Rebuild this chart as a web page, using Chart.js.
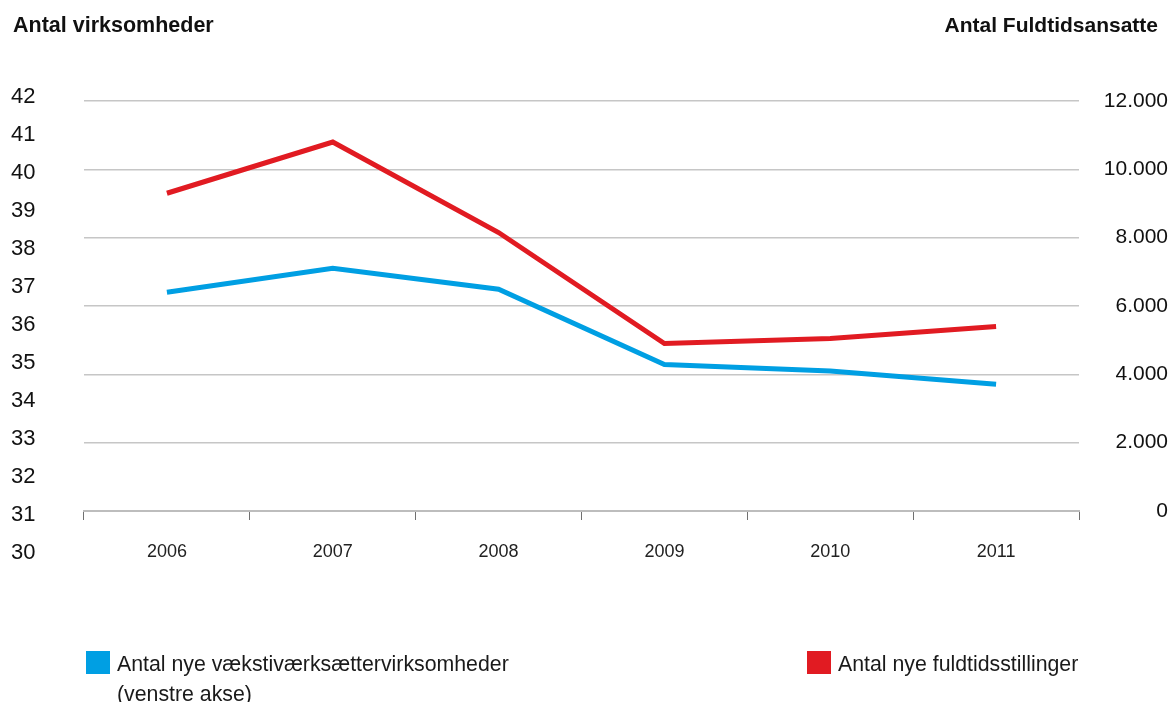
<!DOCTYPE html>
<html lang="da">
<head>
<meta charset="utf-8">
<title>Vækstiværksættere og fuldtidsstillinger</title>
<script src="https://cdn.jsdelivr.net/npm/chart.js@4.4.1/dist/chart.umd.min.js"></script>
<style>
  html, body { margin: 0; padding: 0; background: #fff; }
  #wrap { position: relative; width: 1175px; height: 702px; }
</style>
</head>
<body>
<div id="wrap"><canvas id="growthChart" width="1175" height="702"></canvas></div>
<script>
// Data
const years = ['2006', '2007', '2008', '2009', '2010', '2011'];
const newFirms = [36.87, 37.5, 36.95, 34.97, 34.8, 34.45];       // venstre akse
const newFullTimeJobs = [9300, 10800, 8150, 4900, 5050, 5400];   // højre akse
const firmTicks = [30, 31, 32, 33, 34, 35, 36, 37, 38, 39, 40, 41, 42];
const jobTicks = [0, 2000, 4000, 6000, 8000, 10000, 12000];

const leftTitle = 'Antal virksomheder';
const rightTitle = 'Antal Fuldtidsansatte';
const firmKey = ['Antal nye vækstiværksættervirksomheder', '(venstre akse)'];
const jobKey = ['Antal nye fuldtidsstillinger'];

const BLUE = '#009fe3';
const RED = '#e11b22';
const FONT = '"Liberation Sans", Arial, Helvetica, sans-serif';

// thousands separator with a dot
function fmtThousands(v) {
    return String(v).replace(/\B(?=(\d{3})+(?!\d))/g, '.');
}

// Headings and the key below the plot
const headingsAndKey = {
    id: 'headingsAndKey',
    afterDraw(chart) {
        const ctx = chart.ctx;
        ctx.save();
        ctx.fillStyle = '#111';
        ctx.textBaseline = 'alphabetic';

        ctx.font = 'bold 21.5px ' + FONT;
        ctx.textAlign = 'left';
        ctx.fillText(leftTitle, 13, 32);
        ctx.font = 'bold 21px ' + FONT;
        ctx.textAlign = 'right';
        ctx.fillText(rightTitle, 1158, 32);

        const keys = [
            { x: 86, color: chart.data.datasets[0].borderColor, lines: firmKey },
            { x: 807, color: chart.data.datasets[1].borderColor, lines: jobKey }
        ];
        ctx.font = '21.3px ' + FONT;
        ctx.textAlign = 'left';
        keys.forEach(k => {
            ctx.fillStyle = k.color;
            ctx.fillRect(k.x, 651, 24, 23);
            ctx.fillStyle = '#1a1a1a';
            k.lines.forEach((line, i) => ctx.fillText(line, k.x + 31, 671 + i * 30));
        });
        ctx.restore();
    }
};

const ctx = document.getElementById('growthChart').getContext('2d');
const growthChart = new Chart(ctx, {
    type: 'line',
    data: {
        labels: years,
        datasets: [{
            label: firmKey.join(' '),
            data: newFirms,
            yAxisID: 'y',
            borderColor: BLUE,
            backgroundColor: BLUE,
            borderWidth: 5,
            pointRadius: 0,
            tension: 0,
            borderJoinStyle: 'miter',
            fill: false
        }, {
            label: jobKey.join(' '),
            data: newFullTimeJobs,
            yAxisID: 'y2',
            borderColor: RED,
            backgroundColor: RED,
            borderWidth: 5,
            pointRadius: 0,
            tension: 0,
            borderJoinStyle: 'miter',
            fill: false
        }]
    },
    options: {
        responsive: false,
        animation: false,
        devicePixelRatio: 1,
        layout: { padding: { left: 11, right: 7, top: 101, bottom: 131 } },
        plugins: {
            legend: { display: false },
            tooltip: { enabled: false }
        },
        scales: {
            x: {
                type: 'category',
                offset: true,
                grid: {
                    offset: true,
                    drawOnChartArea: false,
                    drawTicks: true,
                    tickLength: 9,
                    color: '#707070',
                    lineWidth: 1
                },
                border: { display: true, color: '#bdbdbd', width: 2 },
                ticks: {
                    font: { family: FONT, size: 18 },
                    color: '#222',
                    padding: 21,
                    maxRotation: 0,
                    autoSkip: false
                },
                afterFit: s => { s.height = 60; }
            },
            y: {
                position: 'left',
                min: 31.113,
                max: 41.903,
                bounds: 'data',
                grid: { display: false, drawTicks: false },
                border: { display: false },
                ticks: {
                    font: { family: FONT, size: 22 },
                    color: '#111',
                    crossAlign: 'far',
                    autoSkip: false,
                    callback: v => String(v)
                },
                afterBuildTicks: s => { s.ticks = firmTicks.map(v => ({ value: v })); },
                afterFit: s => { s.width = 73; }
            },
            y2: {
                position: 'right',
                min: 0,
                max: 12000,
                grid: { color: '#c6c6c6', lineWidth: 1.5, drawTicks: false },
                border: { display: false },
                ticks: {
                    font: { family: FONT, size: 21 },
                    color: '#111',
                    crossAlign: 'far',
                    autoSkip: false,
                    callback: v => fmtThousands(v)
                },
                afterBuildTicks: s => { s.ticks = jobTicks.map(v => ({ value: v })); },
                afterFit: s => { s.width = 89; }
            }
        }
    },
    plugins: [headingsAndKey]
});
</script>
</body>
</html>
